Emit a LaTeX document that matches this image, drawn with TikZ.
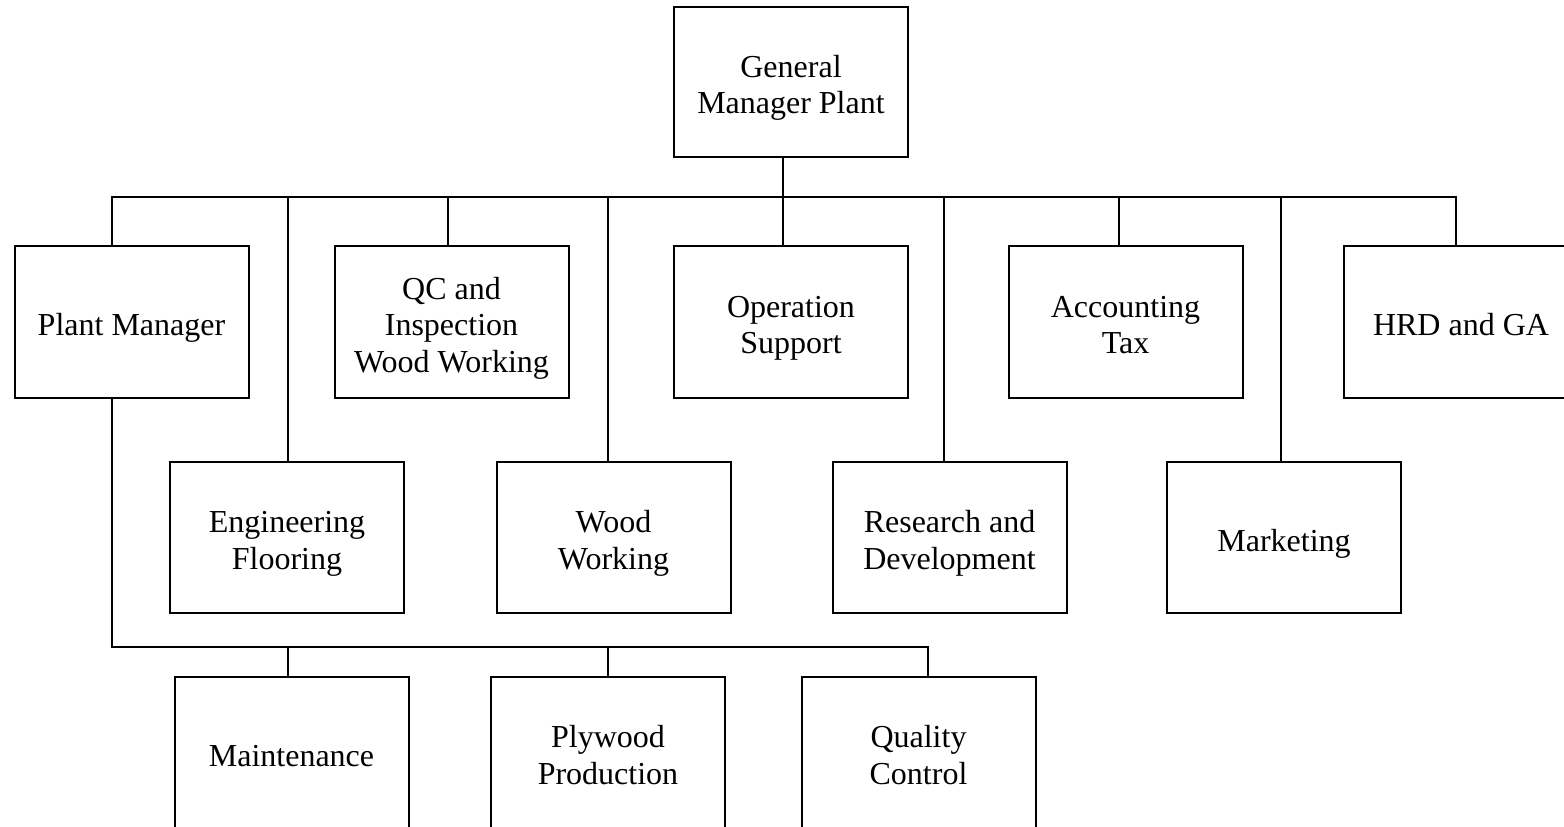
\documentclass[tikz,border=0pt]{standalone}
\usepackage{fontspec}
\setmainfont{Liberation Serif}
\usepackage{tikz}
\usetikzlibrary{positioning, calc}
\newcommand{\lift}{\rule{0pt}{34.5pt}}
\newcommand{\sink}{\rule[-7.5pt]{0pt}{7.5pt}}
\tikzset{
    unit/.style={draw, line width=2pt, inner sep=0pt, align=center,
        minimum width=234pt, minimum height=151pt,
        font=\fontsize{32}{36.5}\selectfont},
    link/.style={line width=2pt},
}

\begin{document}
\begin{tikzpicture}[x=1pt, y=-1pt]
    \useasboundingbox (0,0) rectangle (1564,827);
    \clip (0,0) rectangle (1564,827);
    % Head
    \node[unit, minimum height=150pt] (gm) at (791,82) {\lift General\\Manager Plant\sink};
    % First row
    \node[unit, minimum height=152pt] (pm) at (131.5,322) {\lift Plant Manager\sink};
    \node[unit, minimum height=152pt] (qc) at (451.5,322) {\lift QC and\\Inspection\\Wood Working\sink};
    \node[unit, minimum height=152pt] (ops) at (791,322) {\lift Operation\\Support\sink};
    \node[unit, minimum height=152pt] (acc) at (1125.5,322) {\lift Accounting\\Tax\sink};
    \node[unit, minimum height=152pt] (hrd) at (1461,322) {\lift HRD and GA\sink};
    % Second row
    \node[unit] (eng) at (287,537.5) {\lift Engineering\\Flooring\sink};
    \node[unit] (wood) at (613.5,537.5) {\lift Wood\\Working\sink};
    \node[unit] (rnd) at (949.5,537.5) {\lift Research and\\Development\sink};
    \node[unit] (mkt) at (1284,537.5) {\lift Marketing\sink};
    % Under plant manager
    \node[unit] (mnt) at (291.5,752.5) {\lift Maintenance\sink};
    \node[unit] (ply) at (608,752.5) {\lift Plywood\\Production\sink};
    \node[unit] (qcl) at (918.5,752.5) {\lift Quality\\Control\sink};
    % Main bus
    \foreach \name/\xx in {pm/112, qc/448, ops/783, acc/1119, hrd/1456,
                           eng/288, wood/608, rnd/944, mkt/1281}
        \coordinate (j-\name) at (\xx,197);
    \draw[link] (pm.north -| j-pm) -- (j-pm) -- (j-hrd) -- (hrd.north -| j-hrd);
    \draw[link] (gm.south -| j-ops) -- (ops.north -| j-ops);
    \foreach \name in {qc, acc, eng, wood, rnd, mkt}
        \draw[link] (j-\name) -- (\name.north -| j-\name);
    % Plant manager bus
    \foreach \name/\xx in {pm/112, mnt/288, ply/608, qcl/928}
        \coordinate (k-\name) at (\xx,647);
    \draw[link] (pm.south -| k-pm) -- (k-pm) -- (k-qcl) -- (qcl.north -| k-qcl);
    \foreach \name in {mnt, ply}
        \draw[link] (k-\name) -- (\name.north -| k-\name);
\end{tikzpicture}
\end{document}
